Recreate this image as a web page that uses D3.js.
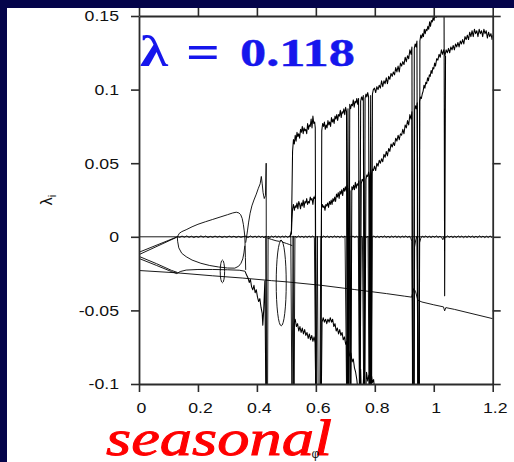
<!DOCTYPE html>
<html>
<head>
<meta charset="utf-8">
<script src="https://cdn.jsdelivr.net/npm/d3@7"></script>
<style>
  html, body { margin: 0; padding: 0; background: #ffffff; overflow: hidden; }
  svg { display: block; }
</style>
</head>
<body>
<svg id="chart" width="514" height="462"></svg>
<script>
// Lyapunov spectrum lambda_i versus forcing amplitude phi (seasonal forcing, lambda = 0.118)

// ---- axis ticks ----
const xTicks = [0, 0.2, 0.4, 0.6, 0.8, 1.0, 1.2];
const xTickLabels = ["0", "0.2", "0.4", "0.6", "0.8", "1", "1.2"];
const yTicks = [-0.1, -0.05, 0, 0.05, 0.1, 0.15];
const yTickLabels = ["-0.1", "-0.05", "0", "0.05", "0.1", "0.15"];

// ---- exponents, [phi, lambda] ----
const zeroLevel = [[0, 0], [1.2, 0]];

// four exponents leaving phi = 0 near -0.012
const pairUpA = [[0, -0.0105], [0.13, 0.0000]];
const pairUpB = [[0, -0.0121], [0.127, -0.0004]];
const pairDownA = [[0, -0.0133], [0.06, -0.0183], [0.11, -0.0228], [0.13, -0.0242]];
const pairDownB = [[0, -0.0147], [0.06, -0.0195], [0.11, -0.0236], [0.128, -0.0250]];

// most negative exponent
const lowest = [
  [0, -0.0229], [0.13, -0.0245], [0.25, -0.0265], [0.35, -0.0280], [0.45, -0.0298],
  [0.50, -0.0306], [0.62, -0.0330], [0.73, -0.0358], [0.84, -0.0386], [0.90, -0.0403],
  [0.925, -0.0410], [0.932, -0.0352], [0.938, -0.0370], [0.946, -0.0431], [0.96, -0.0443],
  [1.00, -0.0462], [1.033, -0.0476], [1.037, -0.0503], [1.041, -0.0481], [1.07, -0.0493],
  [1.20, -0.0556]
];

// branch following the lower pair after phi = 0.13
const branchA = [
  [0.128, -0.0250], [0.14, -0.0236], [0.16, -0.0226], [0.20, -0.0222], [0.25, -0.0222],
  [0.30, -0.0224], [0.34, -0.0227], [0.36, -0.0234]
];

// closed loop between phi = 0.13 and 0.36
const loopUpper = [
  [0.13, 0.0000], [0.137, 0.0024], [0.145, 0.0035], [0.16, 0.0048], [0.18, 0.0068],
  [0.20, 0.0085], [0.225, 0.0102], [0.25, 0.0118], [0.275, 0.0134], [0.30, 0.0150],
  [0.318, 0.0162], [0.33, 0.0167], [0.339, 0.0162], [0.345, 0.0150], [0.350, 0.0125],
  [0.354, 0.0085], [0.357, 0.0040], [0.359, 0.0000], [0.360, -0.0060], [0.361, -0.0140],
  [0.362, -0.0225]
];
const loopLower = [
  [0.13, 0.0000], [0.131, -0.0030], [0.135, -0.0075], [0.145, -0.0112], [0.16, -0.0135],
  [0.18, -0.0158], [0.21, -0.0180], [0.24, -0.0195], [0.27, -0.0205], [0.30, -0.0212],
  [0.325, -0.0213], [0.338, -0.0200], [0.346, -0.0180], [0.352, -0.0150], [0.356, -0.0110],
  [0.359, -0.0060]
];

// exponent rising out of the loop towards the first chaotic window
const risingBranch = [
  [0.362, -0.004], [0.368, 0.004], [0.372, 0.010], [0.377, 0.016], [0.383, 0.021],
  [0.390, 0.025], [0.398, 0.029], [0.405, 0.033], [0.411, 0.036], [0.415, 0.041],
  [0.418, 0.036], [0.421, 0.030], [0.425, 0.026], [0.429, 0.028], [0.4315, 0.050],
  [0.4325, -0.120]
];

// weakly negative exponent between the windows
const branchA2 = [
  [0.435, -0.0008], [0.45, -0.0018], [0.465, -0.0027], [0.476, -0.0031], [0.482, -0.0022],
  [0.488, -0.0037], [0.50, -0.0045], [0.51, -0.0052], [0.52, -0.0060]
];

// small closed orbits of the spectrum: centre and half extents
const ovals = [
  { phi: 0.283, lam: -0.0235, dPhi: 0.0075, dLam: 0.0077 },
  { phi: 0.4825, lam: -0.0315, dPhi: 0.017, dLam: 0.029 }
];

// largest exponent in the chaotic range
const topExp = [
  [0.512, 0.000], [0.517, 0.004], [0.519, 0.030], [0.521, 0.058], [0.524, 0.066], [0.527, 0.063],
  [0.530, 0.069], [0.533, 0.065], [0.536, 0.071], [0.539, 0.068], [0.542, 0.070], [0.545, 0.067],
  [0.548, 0.073], [0.551, 0.071], [0.554, 0.075], [0.557, 0.070], [0.560, 0.074], [0.563, 0.072],
  [0.566, 0.073], [0.569, 0.070], [0.572, 0.077], [0.575, 0.073], [0.578, 0.076], [0.581, 0.075],
  [0.584, 0.080], [0.587, 0.074], [0.590, 0.082], [0.593, 0.077], [0.596, 0.078], [0.598, 0.074],
  [0.601, -0.120], [0.617, -0.120], [0.620, 0.072], [0.623, 0.077], [0.626, 0.075], [0.629, 0.078],
  [0.632, 0.073], [0.635, 0.076], [0.638, 0.074], [0.641, 0.079], [0.644, 0.076], [0.647, 0.078],
  [0.650, 0.075], [0.653, 0.081], [0.656, 0.078], [0.659, 0.080], [0.662, 0.077], [0.665, 0.082],
  [0.668, 0.080], [0.671, 0.083], [0.674, 0.079], [0.677, 0.083], [0.680, 0.082], [0.683, 0.086],
  [0.686, 0.081], [0.689, 0.085], [0.692, 0.084], [0.695, 0.087], [0.698, 0.083], [0.701, 0.088],
  [0.704, 0.085], [0.706, -0.120], [0.709, 0.087], [0.712, -0.120], [0.715, 0.090], [0.718, 0.087],
  [0.721, 0.090], [0.724, 0.089], [0.727, 0.093], [0.730, 0.088], [0.733, 0.092], [0.736, 0.091],
  [0.739, 0.094], [0.742, 0.090], [0.745, 0.094], [0.748, -0.120], [0.752, 0.092], [0.755, 0.095],
  [0.758, 0.093], [0.761, 0.096], [0.764, -0.120], [0.767, 0.094], [0.770, 0.097], [0.773, 0.095],
  [0.776, 0.098], [0.779, 0.095], [0.782, -0.120], [0.786, 0.096], [0.789, -0.120], [0.792, 0.097],
  [0.795, 0.100], [0.799, 0.101], [0.803, 0.098], [0.807, 0.102], [0.811, 0.100], [0.815, 0.103],
  [0.819, 0.101], [0.823, 0.106], [0.827, 0.102], [0.831, 0.106], [0.835, 0.104], [0.839, 0.108],
  [0.843, 0.104], [0.847, 0.109], [0.851, 0.107], [0.855, 0.111], [0.859, 0.109], [0.863, 0.112],
  [0.867, 0.110], [0.871, 0.115], [0.875, 0.112], [0.879, 0.116], [0.883, 0.112], [0.887, 0.118],
  [0.891, 0.116], [0.895, 0.119], [0.899, 0.117], [0.903, 0.122], [0.907, 0.119], [0.911, 0.123],
  [0.915, 0.121], [0.919, 0.127], [0.923, 0.124], [0.926, 0.129], [0.928, -0.120], [0.932, -0.120],
  [0.934, 0.128], [0.937, 0.131], [0.940, 0.129], [0.943, 0.133], [0.946, -0.120], [0.951, -0.120],
  [0.953, 0.133], [0.956, 0.137], [0.959, 0.135], [0.962, 0.138], [0.965, 0.136], [0.968, 0.141],
  [0.971, 0.138], [0.974, 0.141], [0.977, 0.140], [0.980, 0.143], [0.983, 0.141], [0.986, 0.146],
  [0.989, 0.143], [0.992, 0.147], [0.995, 0.146], [0.998, 0.149], [1.001, 0.147], [1.004, 0.151],
  [1.008, 0.149], [1.012, 0.153], [1.016, 0.151], [1.020, 0.155], [1.024, 0.152], [1.028, 0.156],
  [1.032, 0.153], [1.035, 0.150], [1.037, -0.040], [1.040, 0.123]
];

// second positive exponent
const secondExp = [
  [0.512, 0.000], [0.517, 0.002], [0.519, 0.012], [0.521, 0.019], [0.524, 0.022], [0.527, 0.018],
  [0.530, 0.021], [0.533, 0.020], [0.536, 0.023], [0.539, 0.019], [0.542, 0.024], [0.545, 0.022],
  [0.548, 0.019], [0.551, 0.023], [0.554, 0.021], [0.557, 0.025], [0.560, 0.020], [0.563, 0.024],
  [0.566, 0.023], [0.569, 0.026], [0.572, 0.022], [0.575, 0.024], [0.578, 0.023], [0.581, 0.027],
  [0.584, 0.025], [0.587, 0.026], [0.590, 0.022], [0.593, 0.027], [0.596, 0.026], [0.598, 0.028],
  [0.601, -0.120], [0.616, -0.120], [0.619, 0.019], [0.622, 0.022], [0.625, 0.020], [0.628, 0.021],
  [0.631, 0.018], [0.634, 0.022], [0.637, 0.021], [0.640, 0.023], [0.643, 0.020], [0.646, 0.024],
  [0.649, 0.022], [0.652, 0.025], [0.655, 0.022], [0.658, 0.026], [0.661, 0.024], [0.664, 0.027],
  [0.667, 0.024], [0.670, 0.029], [0.673, 0.027], [0.676, 0.030], [0.679, 0.026], [0.682, 0.031],
  [0.685, 0.029], [0.688, 0.032], [0.691, 0.028], [0.694, 0.033], [0.697, 0.031], [0.700, 0.034],
  [0.703, 0.031], [0.706, 0.035], [0.709, -0.120], [0.713, 0.033], [0.716, 0.031], [0.719, -0.120],
  [0.722, 0.034], [0.725, 0.032], [0.728, 0.035], [0.731, 0.032], [0.734, 0.037], [0.737, 0.033],
  [0.740, 0.036], [0.743, 0.035], [0.746, 0.038], [0.750, -0.120], [0.754, 0.036], [0.757, 0.039],
  [0.760, 0.038], [0.763, 0.041], [0.766, -0.120], [0.770, 0.039], [0.773, 0.042], [0.776, 0.041],
  [0.779, 0.044], [0.782, 0.041], [0.785, -0.120], [0.789, 0.043], [0.792, 0.046], [0.795, 0.045],
  [0.799, 0.048], [0.803, 0.045], [0.807, 0.050], [0.811, 0.048], [0.815, 0.052], [0.819, 0.050],
  [0.823, 0.053], [0.827, 0.051], [0.831, 0.056], [0.835, 0.054], [0.839, 0.058], [0.843, 0.055],
  [0.847, 0.060], [0.851, 0.058], [0.855, 0.063], [0.859, 0.061], [0.863, 0.064], [0.867, 0.062],
  [0.871, 0.067], [0.875, 0.065], [0.879, 0.069], [0.883, 0.066], [0.887, 0.070], [0.891, 0.069],
  [0.895, 0.073], [0.899, 0.070], [0.903, 0.076], [0.907, 0.074], [0.911, 0.079], [0.915, 0.076],
  [0.919, 0.083], [0.923, 0.080], [0.926, 0.085], [0.929, -0.120], [0.933, -0.120], [0.935, 0.086],
  [0.938, 0.089], [0.941, 0.087], [0.944, 0.091], [0.947, -0.120], [0.950, -0.120], [0.952, 0.092],
  [0.955, 0.095], [0.958, 0.094], [0.961, 0.097], [0.964, 0.099], [0.967, 0.103], [0.970, 0.101],
  [0.973, 0.105], [0.976, 0.104], [0.979, 0.108], [0.982, 0.106], [0.985, 0.110], [0.988, 0.109],
  [0.991, 0.113], [0.994, 0.111], [0.997, 0.115], [1.000, 0.114], [1.003, 0.118], [1.006, 0.116],
  [1.010, 0.121], [1.014, 0.120], [1.018, 0.124], [1.022, 0.122], [1.026, 0.127], [1.030, 0.124],
  [1.034, 0.127], [1.038, 0.123], [1.042, 0.127], [1.046, 0.125], [1.050, 0.128], [1.054, 0.125],
  [1.058, 0.129], [1.062, 0.127], [1.066, 0.130], [1.070, 0.127], [1.074, 0.131], [1.078, 0.129],
  [1.082, 0.132], [1.086, 0.129], [1.090, 0.133], [1.094, 0.131], [1.098, 0.134], [1.102, 0.131],
  [1.106, 0.136], [1.110, 0.134], [1.114, 0.137], [1.118, 0.134], [1.122, 0.139], [1.126, 0.136],
  [1.130, 0.140], [1.134, 0.136], [1.138, 0.141], [1.142, 0.138], [1.146, 0.140], [1.150, 0.136],
  [1.154, 0.141], [1.158, 0.138], [1.162, 0.140], [1.166, 0.136], [1.170, 0.141], [1.174, 0.138],
  [1.178, 0.140], [1.182, 0.135], [1.186, 0.139], [1.190, 0.136], [1.194, 0.138], [1.198, 0.134],
  [1.200, 0.137]
];

// neutral (near zero) exponent
const zeroExp = [
  [0.130, 0.0002], [0.138, -0.0004], [0.146, 0.0005], [0.154, -0.0003], [0.162, 0.0006],
  [0.170, -0.0004], [0.178, 0.0004], [0.186, -0.0005], [0.194, 0.0003], [0.202, -0.0004],
  [0.210, 0.0006], [0.218, -0.0003], [0.226, 0.0005], [0.234, -0.0005], [0.242, 0.0003],
  [0.250, -0.0004], [0.258, 0.0005], [0.266, -0.0003], [0.274, 0.0004], [0.282, -0.0005],
  [0.290, 0.0003], [0.298, -0.0004], [0.306, 0.0005], [0.314, -0.0003], [0.322, 0.0004],
  [0.330, -0.0005], [0.338, 0.0003], [0.346, -0.0004], [0.354, 0.0002], [0.362, 0.0004],
  [0.370, -0.0005], [0.378, 0.0006], [0.386, -0.0004], [0.394, 0.0005], [0.400, -0.0006],
  [0.406, 0.0007], [0.412, -0.0005], [0.418, 0.0004], [0.424, -0.0008], [0.430, 0.0006],
  [0.432, -0.120], [0.436, -0.120], [0.438, 0.0005], [0.444, -0.0006], [0.450, 0.0005],
  [0.456, -0.0004], [0.462, 0.0006], [0.468, -0.0005], [0.474, 0.0004], [0.480, -0.0006],
  [0.486, 0.0005], [0.492, -0.0004], [0.498, 0.0006], [0.504, -0.0005], [0.510, 0.0004],
  [0.515, -0.0004], [0.519, -0.120], [0.523, 0.0006], [0.526, -0.120], [0.529, 0.0004],
  [0.535, -0.0005], [0.541, 0.0006], [0.547, -0.0004], [0.553, 0.0005], [0.559, -0.0006],
  [0.565, 0.0004], [0.571, -0.0005], [0.577, 0.0006], [0.583, -0.0004], [0.589, 0.0005],
  [0.595, -0.0005], [0.600, -0.120], [0.605, 0.0003], [0.608, -0.120], [0.613, -0.120],
  [0.617, 0.0004], [0.621, -0.0005], [0.627, 0.0006], [0.633, -0.0004], [0.639, 0.0005],
  [0.645, -0.0006], [0.651, 0.0004], [0.657, -0.0005], [0.663, 0.0006], [0.669, -0.0004],
  [0.675, 0.0005], [0.681, -0.0006], [0.687, 0.0004], [0.693, -0.0005], [0.699, 0.0006],
  [0.705, -0.120], [0.708, 0.0004], [0.711, -0.120], [0.714, 0.0005], [0.717, -0.120],
  [0.720, -0.0004], [0.726, 0.0006], [0.732, -0.0005], [0.738, 0.0004], [0.744, -0.0006],
  [0.749, -0.120], [0.753, 0.0005], [0.758, -0.0004], [0.763, -0.120], [0.767, 0.0006],
  [0.772, -0.0005], [0.777, 0.0004], [0.781, -0.120], [0.784, 0.0005], [0.787, -0.120],
  [0.791, -0.0004], [0.797, 0.0006], [0.803, -0.0005], [0.809, 0.0004], [0.815, -0.0006],
  [0.821, 0.0005], [0.827, -0.0004], [0.833, 0.0006], [0.839, -0.0005], [0.845, 0.0004],
  [0.851, -0.0006], [0.857, 0.0005], [0.863, -0.0004], [0.869, 0.0006], [0.875, -0.0005],
  [0.881, 0.0004], [0.887, -0.0006], [0.893, 0.0005], [0.899, -0.0004], [0.905, 0.0006],
  [0.911, -0.0005], [0.917, 0.0004], [0.922, -0.0010], [0.926, -0.0030], [0.929, -0.120],
  [0.933, -0.120], [0.935, -0.0070], [0.939, -0.0020], [0.943, 0.0004], [0.947, -0.120],
  [0.950, -0.120], [0.952, -0.0040], [0.956, -0.0010], [0.961, 0.0005], [0.967, -0.0004],
  [0.973, 0.0006], [0.979, -0.0005], [0.985, 0.0004], [0.991, -0.0006], [0.997, 0.0005],
  [1.003, -0.0004], [1.009, 0.0006], [1.015, -0.0005], [1.021, 0.0004], [1.027, -0.0006],
  [1.031, -0.0020], [1.035, 0.0004], [1.041, -0.0005], [1.047, 0.0006], [1.053, -0.0004],
  [1.059, 0.0005], [1.065, -0.0006], [1.071, 0.0004], [1.077, -0.0005], [1.083, 0.0006],
  [1.089, -0.0004], [1.095, 0.0005], [1.101, -0.0006], [1.107, 0.0004], [1.113, -0.0005],
  [1.119, 0.0006], [1.125, -0.0004], [1.131, 0.0005], [1.137, -0.0006], [1.143, 0.0004],
  [1.149, -0.0005], [1.155, 0.0006], [1.161, -0.0004], [1.167, 0.0005], [1.173, -0.0006],
  [1.179, 0.0004], [1.185, -0.0005], [1.191, 0.0006], [1.197, -0.0004], [1.200, 0.0003]
];

// strongly negative chaotic exponent
const lowerExp = [
  [0.360, -0.0235], [0.365, -0.0260], [0.370, -0.0280], [0.374, -0.0310], [0.378, -0.0290],
  [0.382, -0.0340], [0.386, -0.0360], [0.390, -0.0330], [0.394, -0.0380], [0.398, -0.0360],
  [0.402, -0.0410], [0.406, -0.0440], [0.410, -0.0420], [0.414, -0.0480], [0.418, -0.0520],
  [0.420, -0.0600], [0.423, -0.0500], [0.427, -0.0300], [0.431, -0.120]
];
const lowerExp2 = [
  [0.522, -0.120], [0.526, -0.059], [0.530, -0.056], [0.534, -0.061], [0.538, -0.059],
  [0.542, -0.064], [0.546, -0.061], [0.550, -0.065], [0.554, -0.062], [0.558, -0.066],
  [0.562, -0.063], [0.566, -0.067], [0.570, -0.065], [0.574, -0.069], [0.578, -0.066],
  [0.582, -0.070], [0.586, -0.067], [0.590, -0.071], [0.594, -0.068], [0.598, -0.072],
  [0.600, -0.120], [0.618, -0.120], [0.621, -0.058], [0.625, -0.055], [0.629, -0.058],
  [0.633, -0.056], [0.637, -0.059], [0.641, -0.056], [0.645, -0.058], [0.649, -0.055],
  [0.653, -0.058], [0.657, -0.056], [0.661, -0.061], [0.665, -0.059], [0.669, -0.064],
  [0.673, -0.062], [0.677, -0.066], [0.681, -0.063], [0.685, -0.067], [0.689, -0.065],
  [0.693, -0.070], [0.697, -0.068], [0.701, -0.073], [0.705, -0.071], [0.708, -0.120],
  [0.711, -0.077], [0.715, -0.081], [0.719, -0.079], [0.723, -0.085], [0.727, -0.083],
  [0.731, -0.089], [0.735, -0.092], [0.739, -0.097], [0.742, -0.103], [0.748, -0.120],
  [0.752, -0.090], [0.756, -0.120], [0.762, -0.095], [0.766, -0.120], [0.772, -0.092],
  [0.776, -0.098], [0.780, -0.094], [0.784, -0.100], [0.788, -0.093], [0.792, -0.099],
  [0.796, -0.097], [0.800, -0.105], [0.805, -0.120]
];

// ---- drawing ----
const svg = d3.select("#chart");
const W = 514, H = 462;

const x = d3.scaleLinear().domain([0, 1.2]).range([139, 492.7]);
const y = d3.scaleLinear().domain([-0.1, 0.15]).range([384, 16]);

svg.append("rect").attr("width", W).attr("height", H).attr("fill", "#ffffff");

svg.append("defs").append("clipPath").attr("id", "plotClip")
  .append("rect")
  .attr("x", x(0)).attr("y", y(0.15))
  .attr("width", x(1.2) - x(0)).attr("height", y(-0.1) - y(0.15));

const plot = svg.append("g").attr("clip-path", "url(#plotClip)");
const line = d3.line().x(d => x(d[0])).y(d => y(d[1]));

const smoothCurves = [
  zeroLevel, pairUpA, pairUpB, pairDownA, pairDownB, lowest, branchA,
  loopUpper, loopLower, risingBranch, branchA2, zeroExp
];
const noisyCurves = [lowerExp, lowerExp2, secondExp, topExp];

plot.selectAll("path.smooth").data(smoothCurves).join("path")
  .attr("class", "smooth")
  .attr("d", line)
  .attr("fill", "none")
  .attr("stroke", "#000")
  .attr("stroke-width", 0.9)
  .attr("stroke-linejoin", "round");

plot.selectAll("path.noisy").data(noisyCurves).join("path")
  .attr("class", "noisy")
  .attr("d", line)
  .attr("fill", "none")
  .attr("stroke", "#000")
  .attr("stroke-width", 1.05)
  .attr("stroke-linejoin", "round");

plot.selectAll("ellipse.orbit").data(ovals).join("ellipse")
  .attr("class", "orbit")
  .attr("cx", d => x(d.phi))
  .attr("cy", d => y(d.lam))
  .attr("rx", d => x(d.phi + d.dPhi) - x(d.phi))
  .attr("ry", d => y(d.lam - d.dLam) - y(d.lam))
  .attr("fill", "none")
  .attr("stroke", "#000")
  .attr("stroke-width", 0.9);

// ---- axes (mirrored frame, outward ticks) ----
const axisColor = "#2b2b2b";
const tickFont = "'Liberation Sans', Arial, Helvetica, sans-serif";
function styleAxis(g) {
  g.select(".domain").attr("stroke", axisColor).attr("stroke-width", 1.8);
  g.selectAll(".tick line").attr("stroke", axisColor).attr("stroke-width", 1.6);
  g.selectAll(".tick text").attr("font-family", tickFont).attr("font-size", 15).attr("fill", "#111");
}

const gLeft = svg.append("g").attr("transform", `translate(${x(0)},0)`)
  .call(d3.axisLeft(y).tickValues(yTicks).tickFormat((d, i) => yTickLabels[i]).tickSize(8).tickSizeOuter(0));
styleAxis(gLeft);
gLeft.selectAll(".tick text").attr("x", 0).attr("transform", "translate(-20,0) scale(1.18,1)");

const gRight = svg.append("g").attr("transform", `translate(${x(1.2)},0)`)
  .call(d3.axisRight(y).tickValues(yTicks).tickFormat(() => "").tickSize(8).tickSizeOuter(0));
styleAxis(gRight);

const gTop = svg.append("g").attr("transform", `translate(0,${y(0.15)})`)
  .call(d3.axisTop(x).tickValues(xTicks).tickFormat(() => "").tickSize(8).tickSizeOuter(0));
styleAxis(gTop);

const gBottom = svg.append("g").attr("transform", `translate(0,${y(-0.1)})`)
  .call(d3.axisBottom(x).tickValues(xTicks).tickFormat((d, i) => xTickLabels[i]).tickSize(8).tickSizeOuter(0));
styleAxis(gBottom);
gBottom.selectAll(".tick text").attr("x", 0).attr("y", 18).attr("transform", "translate(2,0) scale(1.18,1)");

// ---- dark frame of the slide ----
svg.append("rect").attr("x", 0).attr("y", 0).attr("width", W).attr("height", 8).attr("fill", "#04044a");
svg.append("rect").attr("x", 0).attr("y", 0).attr("width", 7).attr("height", H).attr("fill", "#04044a");

// ---- axis titles ----
const yTitle = svg.append("text")
  .attr("transform", "translate(52,200) rotate(-90)")
  .attr("text-anchor", "middle")
  .attr("font-family", tickFont)
  .attr("font-size", 16)
  .attr("fill", "#111");
yTitle.append("tspan").text("λ");
yTitle.append("tspan").attr("font-size", 11).attr("dy", 4).text("i");

// ---- annotations ----
const blue = "#1616ec";
const serifBold = "'Liberation Serif', 'Times New Roman', serif";
svg.append("text").attr("x", 140).attr("y", 66)
  .attr("font-family", serifBold).attr("font-weight", "bold").attr("font-size", 44)
  .attr("fill", blue).attr("textLength", 28).attr("lengthAdjust", "spacingAndGlyphs").text("λ");
svg.append("text").attr("x", 186).attr("y", 68)
  .attr("font-family", serifBold).attr("font-weight", "bold").attr("font-size", 48)
  .attr("fill", blue).attr("textLength", 34).attr("lengthAdjust", "spacingAndGlyphs").text("=");
svg.append("text").attr("x", 240).attr("y", 66)
  .attr("font-family", serifBold).attr("font-weight", "bold").attr("font-size", 41)
  .attr("fill", blue).attr("stroke", blue).attr("stroke-width", 0.4)
  .attr("textLength", 115).attr("lengthAdjust", "spacingAndGlyphs").text("0.118");

svg.append("text").attr("x", 106).attr("y", 455)
  .attr("font-family", "'Liberation Serif', 'Times New Roman', serif")
  .attr("font-style", "italic").attr("font-size", 50)
  .attr("fill", "#ff0000").attr("stroke", "#ff0000").attr("stroke-width", 0.9)
  .attr("textLength", 226).attr("lengthAdjust", "spacingAndGlyphs")
  .text("seasonal");

svg.append("text").attr("x", 315.5).attr("y", 458)
  .attr("text-anchor", "middle")
  .attr("font-family", tickFont).attr("font-size", 12).attr("fill", "#111")
  .text("φ");
</script>
</body>
</html>
